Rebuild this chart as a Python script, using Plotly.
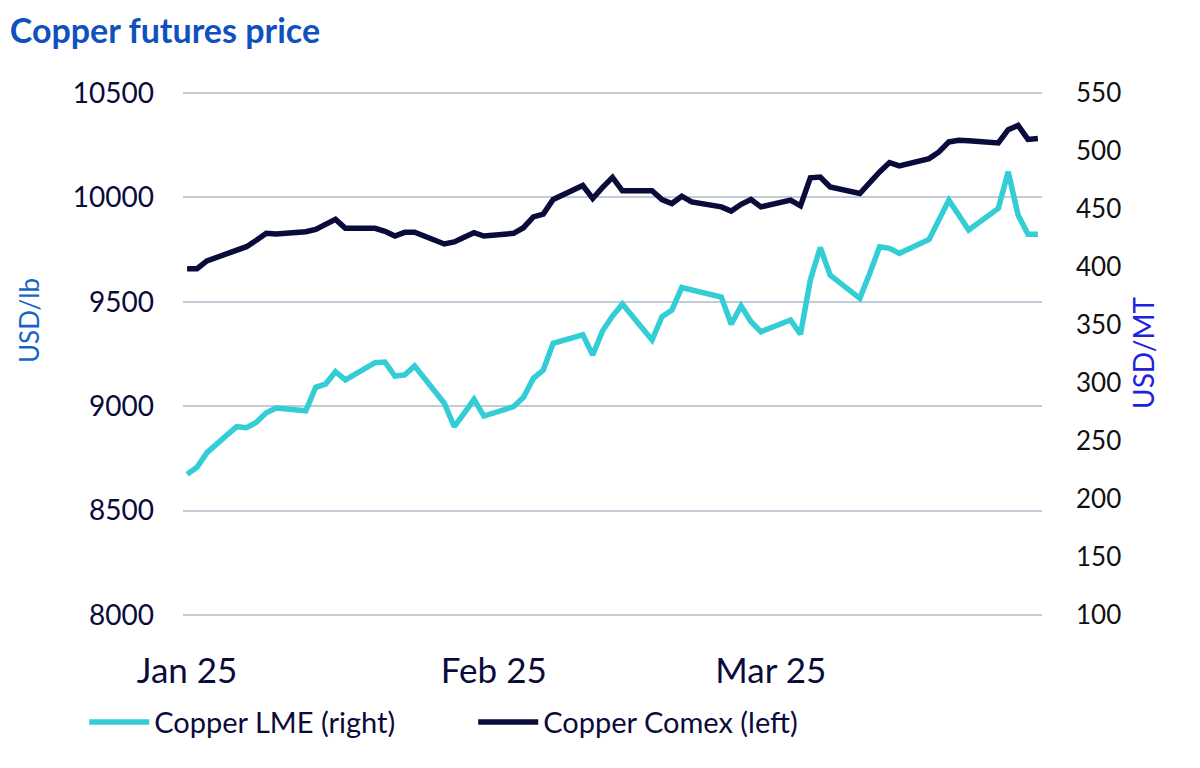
import plotly.graph_objects as go

# trading days shown on the chart (Jan 1 - Mar 28, 2025)
dates = [
    "2025-01-01", "2025-01-02", "2025-01-03",
    "2025-01-06", "2025-01-07", "2025-01-08", "2025-01-09", "2025-01-10",
    "2025-01-13", "2025-01-14", "2025-01-15", "2025-01-16", "2025-01-17",
    "2025-01-20", "2025-01-21", "2025-01-22", "2025-01-23", "2025-01-24",
    "2025-01-27", "2025-01-28", "2025-01-29", "2025-01-30", "2025-01-31",
    "2025-02-03", "2025-02-04", "2025-02-05", "2025-02-06", "2025-02-07",
    "2025-02-10", "2025-02-11", "2025-02-12", "2025-02-13", "2025-02-14",
    "2025-02-17", "2025-02-18", "2025-02-19", "2025-02-20", "2025-02-21",
    "2025-02-24", "2025-02-25", "2025-02-26", "2025-02-27", "2025-02-28",
    "2025-03-03", "2025-03-04", "2025-03-05", "2025-03-06", "2025-03-07",
    "2025-03-10", "2025-03-11", "2025-03-12", "2025-03-13", "2025-03-14",
    "2025-03-17", "2025-03-18", "2025-03-19", "2025-03-20", "2025-03-21",
    "2025-03-24", "2025-03-25", "2025-03-26", "2025-03-27", "2025-03-28",
]

# Copper Comex, left axis
comex = [
    9659, 9659, 9696,
    9743, 9764, 9795, 9828, 9825,
    9836, 9847, 9871, 9895, 9852,
    9852, 9838, 9815, 9833, 9833,
    9777, 9787, 9809, 9831, 9815,
    9828, 9855, 9907, 9920, 9990,
    10057, 9995, 10048, 10096, 10032,
    10032, 9990, 9971, 10006, 9979,
    9955, 9935, 9967, 9990, 9955,
    9987, 9960, 10094, 10098, 10050,
    10019, 10075, 10122, 10167, 10151,
    10186, 10218, 10266, 10274, 10272,
    10261, 10325, 10345, 10278, 10282,
]

# Copper LME, right axis
lme = [
    221.3, 227.3, 239.9,
    262.3, 261.5, 266.1, 274.4, 278.4,
    276.1, 296.3, 299.1, 309.7, 302.6,
    317.5, 318.1, 306.0, 307.0, 314.6,
    282.5, 262.3, 273.9, 285.9, 271.5,
    279.6, 287.7, 304.0, 311.2, 334.2,
    341.6, 324.1, 345.1, 357.7, 368.1,
    337.0, 357.1, 362.9, 382.3, 380.5,
    374.1, 350.7, 366.4, 352.8, 344.2,
    354.3, 342.0, 388.8, 416.9, 393.0,
    373.0, 394.5, 417.5, 416.1, 411.8,
    423.8, 440.5, 457.7, 444.8, 431.9,
    450.6, 482.1, 444.8, 428.2, 428.2,
]

month_ticks = ["2025-01-01", "2025-02-01", "2025-03-01"]
month_labels = ["Jan 25", "Feb 25", "Mar 25"]
left_ticks = [8000, 8500, 9000, 9500, 10000, 10500]

FONT = "Lato"
NAVY = "#0b0b3b"
CYAN = "#33cdd5"
GRID = "#c3ccd6"

fig = go.Figure()
fig.add_trace(go.Scatter(x=dates, y=lme, mode="lines", name="Copper LME (right)",
                         line=dict(color=CYAN, width=5.5), yaxis="y2"))
fig.add_trace(go.Scatter(x=dates, y=comex, mode="lines", name="Copper Comex (left)",
                         line=dict(color=NAVY, width=5.5)))

# page body adds an 8px offset, margins compensate for it;
# y ranges padded a little so the edge gridlines still get drawn
fig.update_layout(
    width=1200, height=768,
    margin=dict(l=175, r=166, t=83, b=159),
    paper_bgcolor="white", plot_bgcolor="white",
    font=dict(family=FONT, color=NAVY),
    title=dict(text="<b>Copper futures price</b>", x=0.0015, xanchor="left",
               y=0.9705, yanchor="middle", font=dict(size=34, color="#1050bf")),
    xaxis=dict(type="date", range=["2024-12-31 14:00", "2025-03-28 10:00"],
               tickvals=month_ticks, ticktext=month_labels,
               tickfont=dict(size=35, color=NAVY), ticklabelstandoff=30,
               showgrid=False, zeroline=False, showline=False, ticks=""),
    yaxis=dict(range=[7990, 10510], tickvals=left_ticks, tickformat="d",
               tickfont=dict(size=28, color=NAVY), ticklabelstandoff=28,
               showgrid=True, gridcolor=GRID, gridwidth=1.5,
               zeroline=False, showline=False, ticks=""),
    yaxis2=dict(range=[98.2, 551.8], dtick=50, tick0=100, overlaying="y", side="right",
                tickfont=dict(size=26, color="#111111"), ticklabelstandoff=33,
                showgrid=False, zeroline=False, showline=False, ticks=""),
    legend=dict(orientation="h", x=-0.115, xanchor="left", y=-0.2, yanchor="middle",
                font=dict(size=29, color=NAVY), itemwidth=60,
                entrywidth=314, entrywidthmode="pixels",
                bgcolor="rgba(0,0,0,0)"),
    showlegend=True,
)

fig.add_annotation(text="USD/lb", xref="paper", yref="paper", x=-0.179, y=0.563,
                   xanchor="center", yanchor="middle",
                   showarrow=False, textangle=-90, font=dict(size=26, color="#1565c8"))
fig.add_annotation(text="USD/MT", xref="paper", yref="paper", x=1.1176, y=0.502,
                   xanchor="center", yanchor="middle",
                   showarrow=False, textangle=-90, font=dict(size=28, color="#2222dd"))

fig.write_html("out.html")
